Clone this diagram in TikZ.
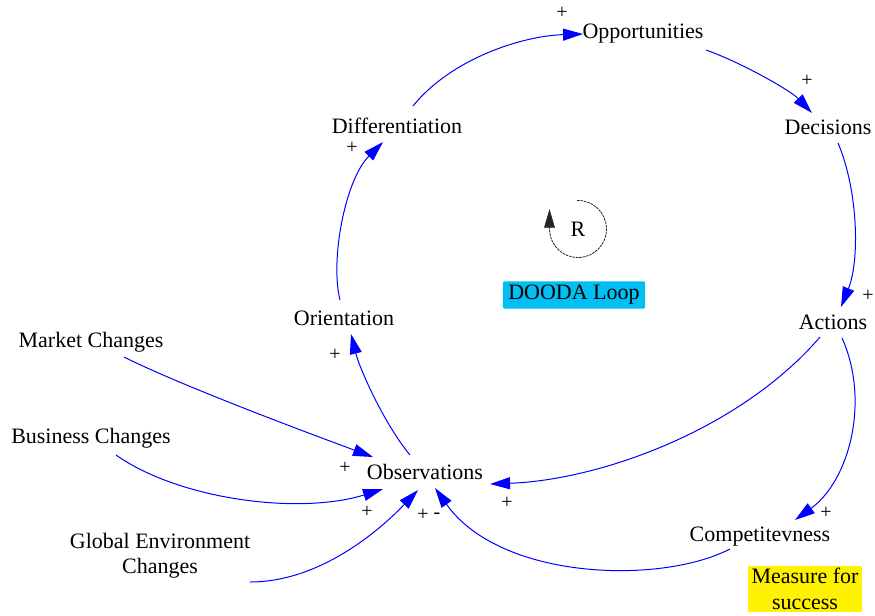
\documentclass[tikz,border=0pt]{standalone}
\usepackage{fontspec}
\setmainfont{Liberation Serif}
\usetikzlibrary{arrows.meta}

\tikzset{
  var/.style={inner sep=0.75pt, font=\fontsize{16.5}{19}\selectfont},
  pol/.style={inner sep=0.75pt, font=\fontsize{15}{17}\selectfont},
  link/.style={draw={rgb,255:red,0;green,0;blue,255}, line width=0.75,
    -{Triangle[length=15pt,width=9pt,fill={rgb,255:red,0;green,0;blue,255}]}},
}

\begin{document}
\begin{tikzpicture}[x=0.75pt,y=0.75pt,yscale=-1,xscale=1]
\useasboundingbox (0,0) rectangle (875,615);

% Text Node
\node[var] (opp) at (643,34) {Opportunities};
% Text Node
\node[var] (dec) at (828,127) {Decisions};
% Text Node
\node[var] (act) at (833,322) {Actions};
% Text Node
\node[var] (comp) at (760,537) {Competitevness};
% Text Node
\node[var] (obs) at (425,472) {Observations};
% Text Node
\node[var] (orient) at (344,318) {Orientation};
% Text Node
\node[var] (diff) at (397,126) {Differentiation};
% Text Node
\node[var] (mkt) at (91,342) {Market Changes};
% Text Node
\node[var] (bus) at (91,438) {Business Changes};
% Text Node
\node[var, align=center] (glob) at (160,556) {Global Environment\\Changes};
% Text Node
\node[var, fill={rgb,255:red,0;green,191;blue,243}, inner xsep=4pt, inner ysep=3pt, rounded corners=1pt] (dooda) at (574,295) {DOODA Loop};
% Text Node
\node[var, fill=yellow, align=center, inner xsep=3pt, inner ysep=2pt] (meas) at (805,589) {Measure for\\success};
% Text Node
\node[var] (r) at (578,229) {R};

%Loop Marker
\draw[black!85, line width=0.6, dash pattern=on 2pt off 0.6pt, -{Triangle[length=14pt,width=8pt]}] (r.center) ++(-92:28.5) arc[start angle=-92, end angle=180, radius=28.5] -- ++(0,-20);

%Curve Lines
\draw[link] ([shift={(16,-20)}]diff.center) .. controls (450,60) and (520,36) .. ([shift={(-60,0)}]opp.center);
\draw[link] ([shift={(63,16)}]opp.center) .. controls (740,62) and (790,90) .. ([shift={(-16,-14)}]dec.center);
\draw[link] ([shift={(10,16)}]dec.center) .. controls (858,190) and (860,260) .. ([shift={(8,-15)}]act.center);
\draw[link] ([shift={(-13,15)}]act.center) .. controls (740,430) and (600,480) .. ([shift={(65,12)}]obs.center);
\draw[link] ([shift={(9,16)}]act.center) .. controls (870,400) and (850,480) .. ([shift={(35,-17)}]comp.center);
\draw[link] ([shift={(-30,12)}]comp.center) .. controls (660,585) and (500,580) .. ([shift={(10,16)}]obs.center);
\draw[link] ([shift={(90,26)}]glob.center) .. controls (320,582) and (380,530) .. ([shift={(-7,18)}]obs.center);
\draw[link] ([shift={(25,17)}]bus.center) .. controls (180,500) and (300,515) .. ([shift={(-42,17)}]obs.center);
\draw[link] ([shift={(33,15)}]mkt.center) .. controls (180,385) and (300,430) .. ([shift={(-52,-15)}]obs.center);
\draw[link] ([shift={(-15,-17)}]obs.center) .. controls (385,425) and (360,370) .. ([shift={(7,16)}]orient.center);
\draw[link] ([shift={(-4,-18)}]orient.center) .. controls (330,260) and (345,180) .. ([shift={(-14,16)}]diff.center);

% Polarity Node
\node[pol] (p1) at (562,13) {+};
\node[pol] (p2) at (807,81) {+};
\node[pol] (p3) at (868,296) {+};
\node[pol] (p4) at (507,503) {+};
\node[pol] (p5) at (826,513) {+};
\node[pol] (p6) at (437,516) {-};
\node[pol] (p7) at (423,515) {+};
\node[pol] (p8) at (367,512) {+};
\node[pol] (p9) at (345,468) {+};
\node[pol] (p10) at (335,355) {+};
\node[pol] (p11) at (352,148) {+};

\end{tikzpicture}
\end{document}
